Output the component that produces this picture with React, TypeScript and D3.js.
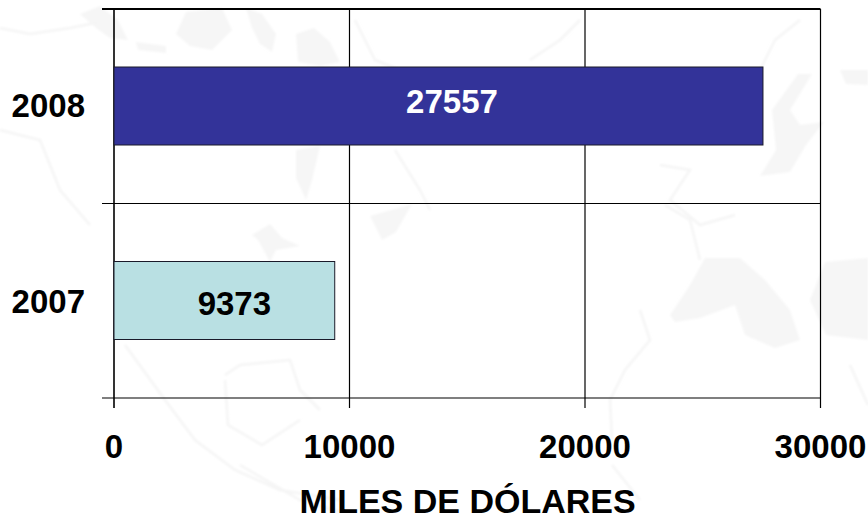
import React from "react";
import * as d3 from "d3";

const categories = ["2008", "2007"];
const values = [27557, 9373];
const barColors = ["#333399", "#b9e0e3"];
const labelColors = ["#ffffff", "#000000"];
const xTicks = [0, 10000, 20000, 30000];
const xTitle = "MILES DE DÓLARES";

const landShapes = [
  "M186,12L222,8L232,30L212,50L190,46L176,34Z",
  "M246,8L262,14L276,34L272,52L260,44L252,28Z",
  "M296,34L314,28L330,42L340,62L320,66L298,62Z",
  "M136,42L166,46L166,53L138,50Z",
  "M80,14L100,6L118,20L128,40L110,38L96,28Z",
  "M296,150L320,146L312,180L306,200L296,178Z",
  "M252,235L270,224L282,238L300,246L276,250L270,262L258,240Z",
  "M370,216L412,204L396,232L382,240Z",
  "M798,74L812,74L790,110L800,125L824,122L806,145L790,172L760,176L776,150L772,110Z",
  "M670,315L690,285L705,258L740,258L765,280L790,310L800,340L775,348L745,335L735,305L700,318L675,322Z",
  "M825,262L868,258L868,340L826,335L810,300Z",
  "M840,70L868,70L868,85L846,84Z",
];
const coastLines = [
  "M0,28L30,34L70,28L100,22",
  "M0,130L40,140L60,190L90,225",
  "M125,345L165,400L195,440L235,470L280,490L340,500",
  "M225,375L240,365L290,360L300,390L320,410",
  "M225,380L228,425L262,445L300,420",
  "M355,20L375,60L400,70",
  "M395,150L420,190L430,210",
  "M530,60L560,40L580,20",
  "M640,310L650,340L625,370L610,400L612,440",
  "M612,465L640,500",
  "M760,70L775,40L800,20",
  "M660,165L690,170L670,200L700,225L735,215",
  "M665,205L690,220L700,260",
  "M850,365L868,405",
  "M240,465L300,500L340,512",
];

export default function App() {
  const x = d3.scaleLinear().domain([0, 30000]).range([114, 820.5]);
  const y = d3.scaleBand().domain(categories).range([9, 398]);
  const bandPad = 58;
  const font = "'Liberation Sans', Arial, sans-serif";
  const top = y.range()[0];
  const bottom = y.range()[1];
  const edges = [top, y(categories[1])!, bottom];
  const valueShift = [13.5, 10];
  const valueBase = [113, 315];
  const categoryBase = [117, 312.5];

  return (
    <svg
      width={868}
      height={517}
      style={{ position: "absolute", left: 0, top: 0, background: "#fff" }}
      fontFamily={font}
      fontWeight="bold"
    >
      <defs>
        <filter id="soft" x="-5%" y="-5%" width="110%" height="110%">
          <feGaussianBlur stdDeviation="1.2" />
        </filter>
      </defs>
      <g filter="url(#soft)">
        {landShapes.map((d, i) => (
          <path key={i} d={d} fill="#f6f6f6" />
        ))}
        {coastLines.map((d, i) => (
          <path key={i} d={d} fill="none" stroke="#f5f5f5" strokeWidth={2.5} />
        ))}
      </g>

      {xTicks.map((t) => (
        <line key={t} x1={x(t)} x2={x(t)} y1={top} y2={408} stroke="#000" strokeWidth={t === 0 ? 1.6 : 1.2} />
      ))}
      {edges.map((e, i) => (
        <line key={i} x1={102} x2={x(30000)} y1={e} y2={e} stroke="#000" strokeWidth={i === 0 ? 1.8 : 1.2} />
      ))}

      {categories.map((c, i) => {
        const y0 = y(c)! + bandPad;
        const h = y.bandwidth() - 2 * bandPad - 0.5;
        return (
          <g key={c}>
            <rect
              x={x(0)}
              y={y0}
              width={x(values[i]) - x(0)}
              height={h}
              fill={barColors[i]}
              stroke="#1a1a2a"
              strokeWidth={1}
            />
            <text x={(x(0) + x(values[i])) / 2 + valueShift[i]} y={valueBase[i]} textAnchor="middle" fontSize={33} fill={labelColors[i]}>
              {values[i]}
            </text>
            <text x={85} y={categoryBase[i]} textAnchor="end" fontSize={33} fill="#000">
              {c}
            </text>
          </g>
        );
      })}

      {xTicks.map((t) => (
        <text key={t} x={x(t)} y={458} textAnchor="middle" fontSize={33} fill="#000">
          {t}
        </text>
      ))}
      <text x={467.5} y={513} textAnchor="middle" fontSize={34} fill="#000">
        {xTitle}
      </text>
    </svg>
  );
}
